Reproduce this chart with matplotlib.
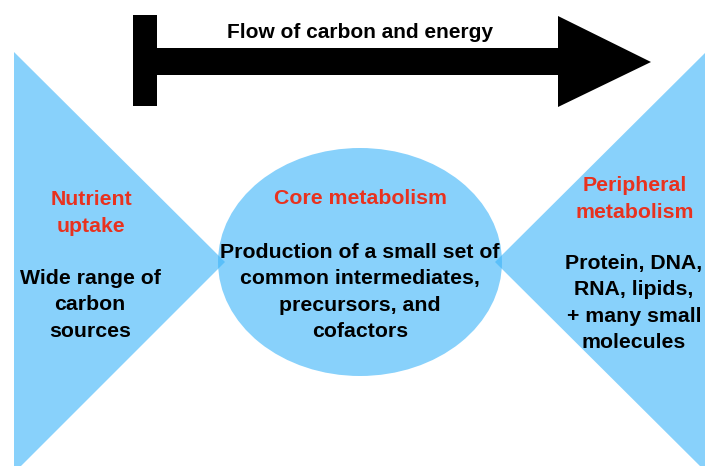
import matplotlib.pyplot as plt
from matplotlib.patches import Polygon, Ellipse

# shape geometry, in pixels of a 705x466 canvas (y grows downward)
left_tri = [(14, 52), (225, 262), (14, 473)]
right_tri = [(707, 51), (495, 262), (707, 473)]
core_center = (360, 262)
core_size = (284, 228)
arrow_outline = [(133, 15), (157, 15), (157, 48), (558, 48), (558, 16), (651, 62),
                 (558, 107), (558, 75), (157, 75), (157, 106), (133, 106)]

# labels: (x, y, text)
headings = [(91, 213, 'Nutrient\nuptake'),
            (360, 199, 'Core metabolism'),
            (635, 199, 'Peripheral\nmetabolism')]
bodies = [(90, 305, 'Wide range of\ncarbon\nsources'),
          (360, 292, 'Production of a small set of\ncommon intermediates,\nprecursors, and\ncofactors'),
          (634, 303, 'Protein, DNA,\nRNA, lipids,\n+ many small\nmolecules')]
arrow_label = (360, 32, 'Flow of carbon and energy')

blue = (63/255, 181/255, 249/255)
red = '#e8321f'

plt.rcParams['font.family'] = ['Liberation Sans', 'DejaVu Sans']

fig = plt.figure(figsize=(7.05, 4.66), dpi=100)
ax = fig.add_axes([0, 0, 1, 1])
ax.set_xlim(0, 705)
ax.set_ylim(466, 0)
ax.axis('off')

for tri in (left_tri, right_tri):
    ax.add_patch(Polygon(tri, closed=True, facecolor=blue, alpha=0.62, edgecolor='none'))
ax.add_patch(Ellipse(core_center, core_size[0], core_size[1], facecolor=blue, alpha=0.62, edgecolor='none'))
ax.add_patch(Polygon(arrow_outline, closed=True, facecolor='black', edgecolor='none'))

ax.text(arrow_label[0], arrow_label[1], arrow_label[2], ha='center', va='center',
        fontsize=15, fontweight='bold')
for x, y, t in headings:
    ax.text(x, y, t, ha='center', va='center', color=red, fontsize=15.3,
            fontweight='bold', linespacing=1.48)
for x, y, t in bodies:
    ax.text(x, y, t, ha='center', va='center', color='black', fontsize=15.3,
            fontweight='bold', linespacing=1.48)

fig.savefig('out.png', dpi=100)
